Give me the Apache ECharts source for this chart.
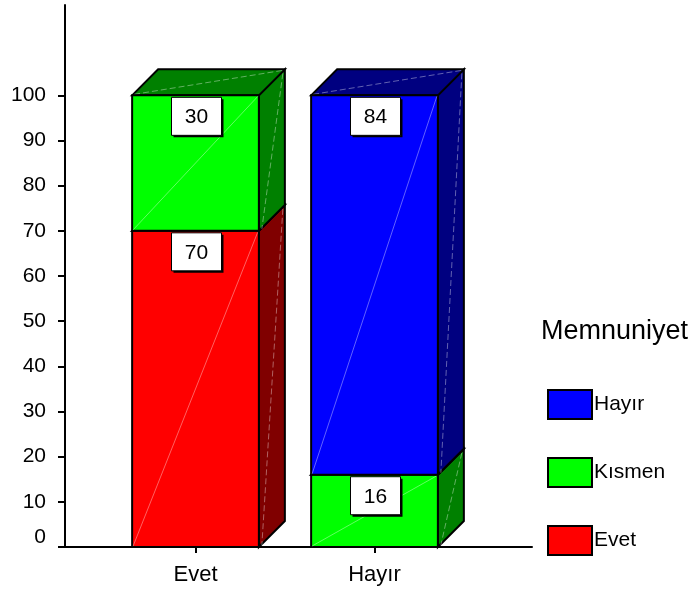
<!DOCTYPE html>
<html>
<head>
<meta charset="utf-8">
<script src="https://cdn.jsdelivr.net/npm/echarts@6/dist/echarts.min.js"></script>
<style>
  html, body { margin: 0; padding: 0; background: #ffffff; }
  #chart { width: 695px; height: 589px; }
</style>
</head>
<body>
<div id="chart"></div>
<script>
// Answers grouped by the "Evet" / "Hayır" category, stacked bottom-up: Evet, Kısmen, Hayır
const categories = ['Evet', 'Hayır'];
const evetValues = [70, 0];
const kismenValues = [30, 16];
const hayirValues = [0, 84];
const yTickValues = [0, 10, 20, 30, 40, 50, 60, 70, 80, 90, 100];
const legendTitle = 'Memnuniyet';
const legendOrder = ['Hayır', 'Kısmen', 'Evet'];

const FONT = '"Liberation Sans", Arial, Helvetica, sans-serif';
const DEPTH = 26;          // 3D extrusion (px, up and to the right)
const BAR_RATIO = 0.708;   // front face width relative to category band

const stackSeries = [
  { name: 'Evet',   values: evetValues,   front: '#ff0000', dark: '#800000' },
  { name: 'Kısmen', values: kismenValues, front: '#00ff00', dark: '#008000' },
  { name: 'Hayır',  values: hayirValues,  front: '#0000ff', dark: '#000080' }
];

// running base of each segment inside its column
const stackBases = stackSeries.map((s, si) =>
  s.values.map((v, i) => stackSeries.slice(0, si).reduce((acc, p) => acc + p.values[i], 0))
);

const HAZE = 'rgba(255,255,255,0.38)';

function boxRenderer(si) {
  const s = stackSeries[si];
  return function (params, api) {
    const i = api.value(0);
    const v = api.value(1);
    if (!v) return null;
    const base = stackBases[si][i];
    const band = api.size([1, 0])[0];
    const w = band * BAR_RATIO;
    const bottom = api.coord([i, base]);
    const top = api.coord([i, base + v]);
    const cx = bottom[0];
    const x0 = cx - w / 2, x1 = cx + w / 2;
    const yb = bottom[1], yt = top[1];
    const D = DEPTH;
    const edge = { stroke: '#000', lineWidth: 2, lineJoin: 'miter' };

    const children = [
      { type: 'polygon', shape: { points: [[x1, yt], [x1 + D, yt - D], [x1 + D, yb - D], [x1, yb]] },
        style: Object.assign({ fill: s.dark }, edge) },
      { type: 'polygon', shape: { points: [[x0, yt], [x0 + D, yt - D], [x1 + D, yt - D], [x1, yt]] },
        style: Object.assign({ fill: s.dark }, edge) },
      { type: 'line', shape: { x1: x1 + D - 2, y1: yt - D + 4, x2: x1 + 3, y2: yb - 2 },
        style: { stroke: HAZE, lineWidth: 1, lineDash: [6, 3] } },
      { type: 'line', shape: { x1: x0 + 2, y1: yt - 1, x2: x1 + D - 2, y2: yt - D + 1 },
        style: { stroke: HAZE, lineWidth: 1, lineDash: [6, 3] } },
      { type: 'rect', shape: { x: x0, y: yt, width: w, height: yb - yt },
        style: Object.assign({ fill: s.front }, edge) },
      { type: 'line', shape: { x1: x0 + 1, y1: yb - 1, x2: x1 - 1, y2: yt + 1 },
        style: { stroke: HAZE, lineWidth: 1 } }
    ];

    // value tag at the top of the front face
    const bw = 50, bh = 38;
    const bx = cx - bw / 2 + 1, by = yt + 2;
    children.push(
      { type: 'rect', shape: { x: bx + 2, y: by + 2, width: bw, height: bh }, style: { fill: '#000' } },
      { type: 'rect', shape: { x: bx, y: by, width: bw, height: bh }, style: { fill: '#fff', stroke: '#000', lineWidth: 1 } },
      { type: 'text', style: { x: bx + bw / 2, y: by + bh / 2 + 1, text: String(v), fill: '#000',
          font: '21px ' + FONT, align: 'center', verticalAlign: 'middle' } }
    );
    return { type: 'group', children: children };
  };
}

const chart = echarts.init(document.getElementById('chart'), null, { renderer: 'canvas' });

const option = {
  backgroundColor: '#ffffff',
  animation: false,
  title: {
    text: legendTitle,
    left: 541, top: 318, padding: 0,
    textStyle: { fontFamily: FONT, fontSize: 27, fontWeight: 'normal', color: '#000' }
  },
  legend: {
    orient: 'vertical',
    left: 547, top: 389,
    padding: 0,
    itemWidth: 44, itemHeight: 29, itemGap: 37,
    icon: 'rect',
    data: legendOrder,
    itemStyle: { borderColor: '#000', borderWidth: 2 },
    textStyle: { fontFamily: FONT, fontSize: 21, color: '#000', padding: [0, 0, 0, -3] }
  },
  grid: [
    { left: 65, top: 5, width: 467, height: 542 },
    { left: 106, top: 5, width: 358, height: 542 }
  ],
  xAxis: [
    { gridIndex: 0, type: 'category', data: [''],
      axisLine: { show: true, lineStyle: { color: '#000', width: 2 } },
      axisTick: { show: false }, axisLabel: { show: false }, splitLine: { show: false } },
    { gridIndex: 1, type: 'category', data: categories,
      axisLine: { show: false },
      axisTick: { show: true, alignWithLabel: true, length: 6, lineStyle: { color: '#000', width: 2 } },
      axisLabel: { margin: 17, fontFamily: FONT, fontSize: 22, color: '#000' },
      splitLine: { show: false } }
  ],
  yAxis: [
    { gridIndex: 0, type: 'value', min: 0, max: 120, interval: 10,
      axisLine: { show: true, lineStyle: { color: '#000', width: 2 } },
      axisTick: { show: true, length: 7, customValues: yTickValues, lineStyle: { color: '#000', width: 2 } },
      axisLabel: { customValues: yTickValues, margin: 19, fontFamily: FONT, fontSize: 21, color: '#000',
        formatter: function (val) { return val === 0 ? '{zero|0}' : String(val); },
        rich: { zero: { fontFamily: FONT, fontSize: 21, color: '#000', padding: [0, 0, 20, 0] } } },
      splitLine: { show: false } },
    { gridIndex: 1, type: 'value', min: 0, max: 120, interval: 10, show: false, splitLine: { show: false } }
  ],
  series: stackSeries.map((s, si) => ({
    name: s.name,
    type: 'custom',
    xAxisIndex: 1, yAxisIndex: 1,
    itemStyle: { color: s.front },
    renderItem: boxRenderer(si),
    data: s.values.map((v, i) => [i, v])
  }))
};

chart.setOption(option);
</script>
</body>
</html>
